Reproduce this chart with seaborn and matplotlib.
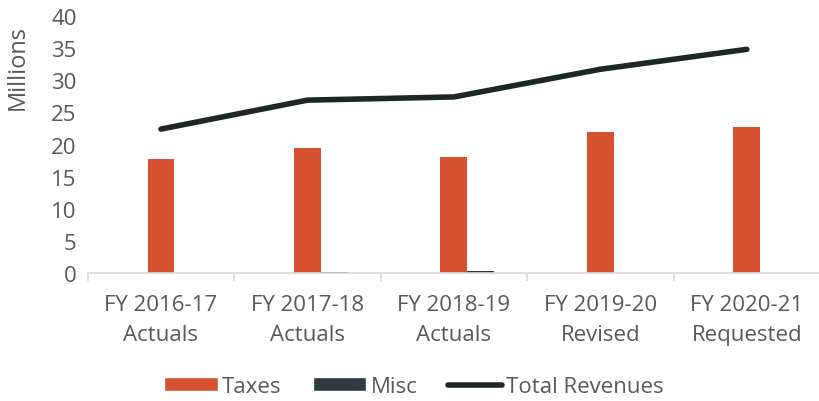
import numpy as np
import pandas as pd
import matplotlib
matplotlib.use("Agg")
import matplotlib.pyplot as plt
import seaborn as sns
from matplotlib.patches import Patch
from matplotlib.lines import Line2D

# data (millions)
categories = ["FY 2016-17\nActuals", "FY 2017-18\nActuals", "FY 2018-19\nActuals",
              "FY 2019-20\nRevised", "FY 2020-21\nRequested"]
taxes = [17.8, 19.4, 18.1, 22.0, 22.7]
misc = [0.1, 0.15, 0.3, 0.0, 0.0]
total_revenues = [22.4, 26.9, 27.4, 31.7, 34.8]

TAX_COLOR = "#D55130"
MISC_COLOR = "#2E3B40"
LINE_COLOR = "#1E2626"
TEXT_COLOR = "#595959"
FS = 16

sns.set_theme(style="white")
plt.rcParams["font.family"] = ["Open Sans", "DejaVu Sans"]

# long table; an empty level keeps Taxes centred on the category like the original
df = pd.DataFrame({
    "cat": categories * 3,
    "series": ["_pad"] * 5 + ["Taxes"] * 5 + ["Misc"] * 5,
    "value": [0.0] * 5 + taxes + misc,
})

fig = plt.figure(figsize=(8.2, 4.02), dpi=100)
ax = fig.add_axes([0.107, 0.318, 0.893, 0.64])

sns.barplot(data=df, x="cat", y="value", hue="series",
            hue_order=["_pad", "Taxes", "Misc"],
            palette={"_pad": (1, 1, 1, 0), "Taxes": TAX_COLOR, "Misc": MISC_COLOR},
            width=0.55, gap=0, errorbar=None, legend=False, ax=ax,
            saturation=1, edgecolor="none", linewidth=0)

sns.lineplot(x=np.arange(len(categories)), y=total_revenues, color=LINE_COLOR,
             linewidth=4, solid_capstyle="round", ax=ax)

ax.set_ylim(0, 40)
ax.set_xlim(-0.5, len(categories) - 0.5)
ax.set_yticks(range(0, 41, 5))
ax.set_xlabel("")
ax.set_ylabel("Millions", fontsize=FS + 1, color=TEXT_COLOR)
ax.yaxis.set_label_coords(-0.079, 0.805)

for s in ["top", "right", "left"]:
    ax.spines[s].set_visible(False)
ax.spines["bottom"].set_color("#D9D9D9")
ax.spines["bottom"].set_linewidth(1.2)

ax.tick_params(axis="y", length=0, labelsize=FS, labelcolor=TEXT_COLOR, pad=8)
ax.tick_params(axis="x", which="major", length=0, labelsize=FS,
               labelcolor=TEXT_COLOR, pad=15)
ax.set_xticks(np.arange(-0.5, len(categories)), minor=True)
ax.tick_params(axis="x", which="minor", length=6, width=1.2, color="#D9D9D9",
               bottom=True)
for lab in ax.get_xticklabels():
    lab.set_linespacing(1.55)

handles = [
    Patch(facecolor=TAX_COLOR, label="Taxes"),
    Patch(facecolor=MISC_COLOR, label="Misc"),
    Line2D([0], [0], color=LINE_COLOR, linewidth=4, solid_capstyle="round",
           label="Total Revenues"),
]
leg = fig.legend(handles=handles, loc="lower center", bbox_to_anchor=(0.505, -0.04),
                 ncol=3, frameon=False, fontsize=FS, handlelength=2.4,
                 handleheight=0.6, handletextpad=0.2, columnspacing=1.4)
for t in leg.get_texts():
    t.set_color(TEXT_COLOR)

fig.savefig("out.png", dpi=100)
